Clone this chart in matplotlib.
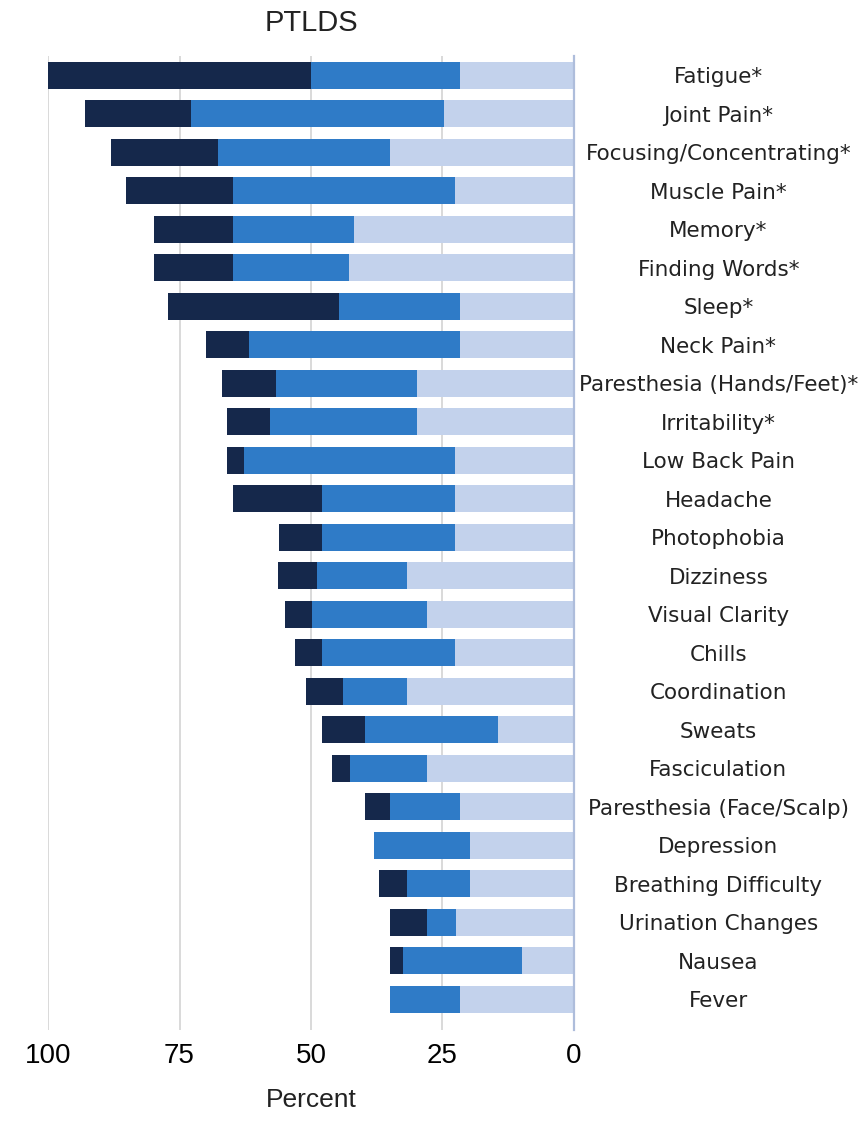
import matplotlib.pyplot as plt

symptoms = [
    "Fatigue*", "Joint Pain*", "Focusing/Concentrating*", "Muscle Pain*",
    "Memory*", "Finding Words*", "Sleep*", "Neck Pain*",
    "Paresthesia (Hands/Feet)*", "Irritability*", "Low Back Pain", "Headache",
    "Photophobia", "Dizziness", "Visual Clarity", "Chills", "Coordination",
    "Sweats", "Fasciculation", "Paresthesia (Face/Scalp)", "Depression",
    "Breathing Difficulty", "Urination Changes", "Nausea", "Fever",
]
# percent of patients per severity level (segment widths)
mild = [21.7, 24.7, 34.9, 22.7, 41.8, 42.7, 21.6, 21.6, 29.8, 29.8, 22.7, 22.7,
        22.7, 31.8, 27.9, 22.7, 31.8, 14.5, 27.9, 21.6, 19.8, 19.8, 22.5, 9.8, 21.6]
moderate = [28.3, 48.1, 32.8, 42.2, 23.1, 22.2, 23.1, 40.1, 26.9, 28.0, 40.0, 25.2,
            25.2, 17.1, 21.9, 25.2, 12.2, 25.3, 14.6, 13.3, 18.2, 12.0, 5.4, 22.8, 13.3]
severe = [50.0, 20.2, 20.3, 20.2, 15.0, 15.0, 32.4, 8.3, 10.2, 8.1, 3.2, 17.0,
          8.1, 7.3, 5.1, 5.1, 6.9, 8.1, 3.5, 4.9, 0.0, 5.2, 7.0, 2.3, 0.0]

x_ticks = [100, 75, 50, 25, 0]
colors = ["#c3d2ec", "#2f7bc7", "#15284b"]

fig = plt.figure(figsize=(8.59, 11.25), dpi=100)
ax = fig.add_axes([0.0559, 0.0844, 0.6123, 0.8658])

ypos = list(range(len(symptoms)))
left = [0.0] * len(symptoms)
for vals, col in zip([mild, moderate, severe], colors):
    ax.barh(ypos, vals, left=left, height=0.7, color=col, zorder=3)
    left = [a + b for a, b in zip(left, vals)]

ax.set_xlim(100, 0)
ax.set_ylim(24.8, -0.5)
ax.set_xticks(x_ticks)
ax.set_xticklabels([str(t) for t in x_ticks], family="Liberation Sans", fontsize=20)
ax.tick_params(axis="x", length=0, pad=9)
ax.grid(axis="x", color="#d9d9d9", linewidth=1.4, zorder=0)

ax.yaxis.tick_right()
ax.set_yticks(ypos)
ax.set_yticklabels(symptoms, fontsize=15.5, color="#222222", ha="center")
ax.tick_params(axis="y", length=0, pad=104)

for side in ["top", "left", "bottom"]:
    ax.spines[side].set_visible(False)
ax.spines["right"].set_color("#aebddb")
ax.spines["right"].set_linewidth(1.6)
ax.spines["right"].set_zorder(4)

ax.set_title("PTLDS", family="Liberation Sans", fontsize=21, color="#222222", pad=18)
ax.set_xlabel("Percent", family="Liberation Sans", fontsize=19, color="#222222", labelpad=14)

fig.savefig("out.png", dpi=100)
